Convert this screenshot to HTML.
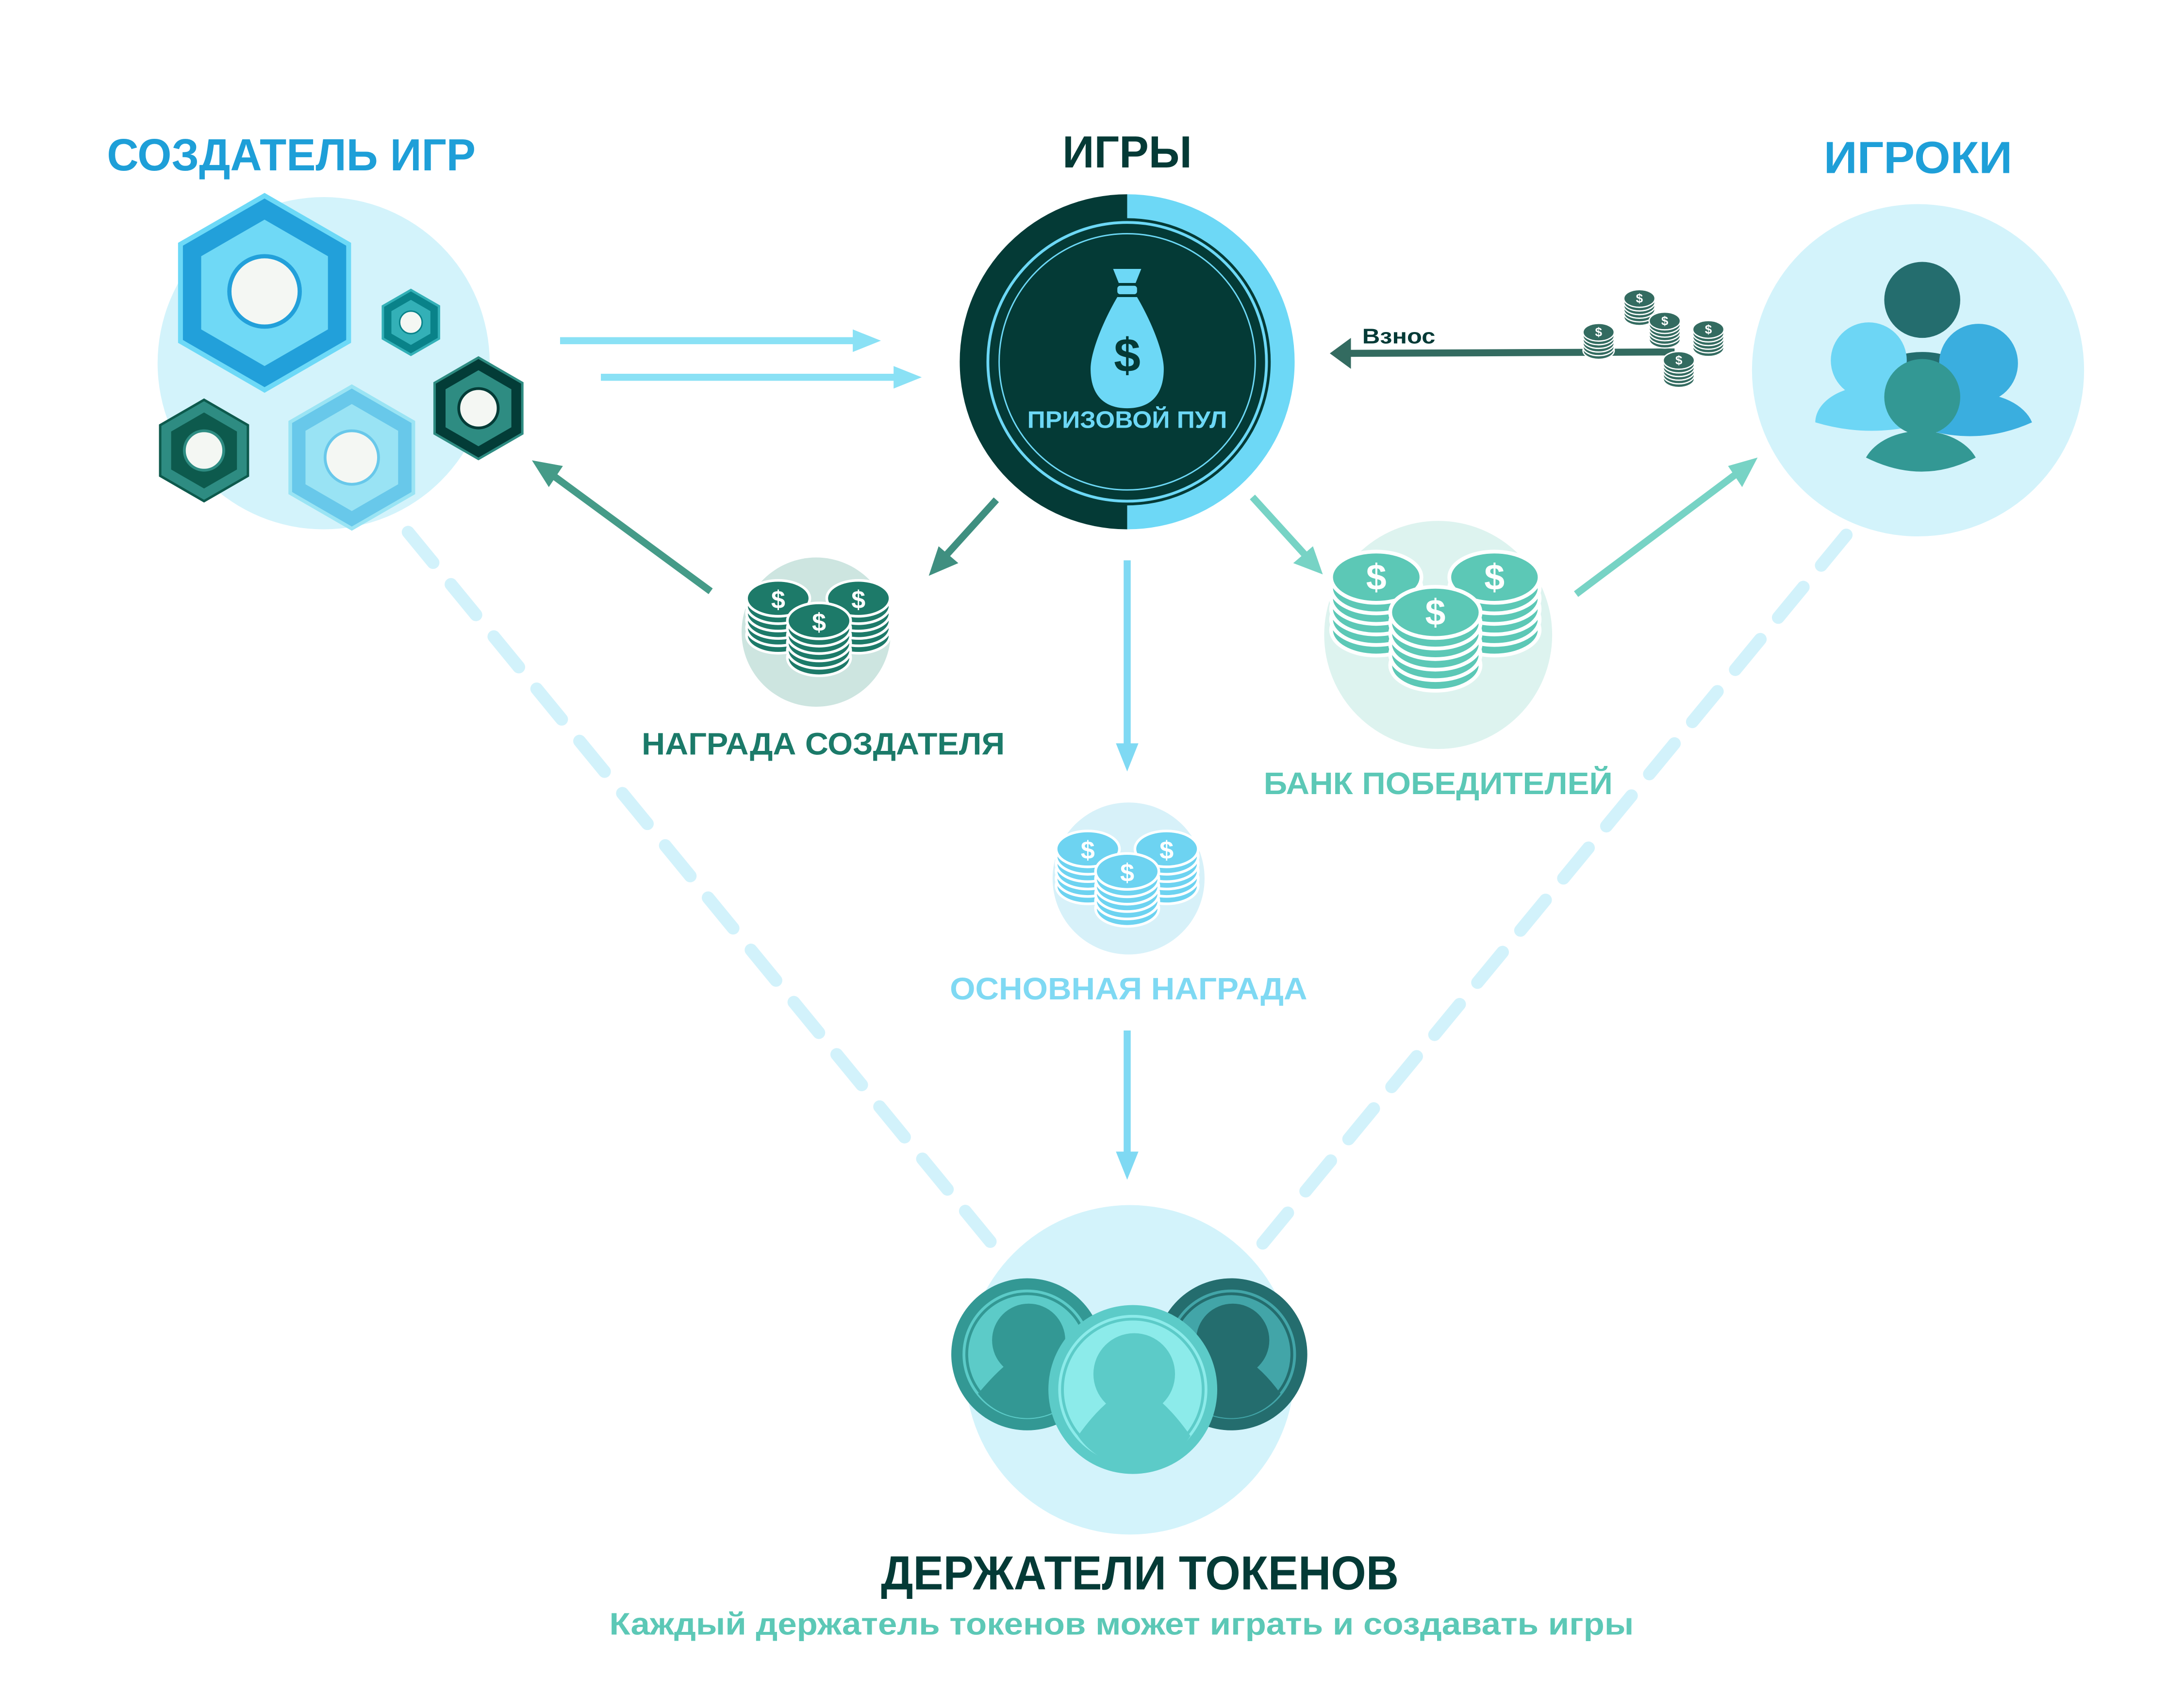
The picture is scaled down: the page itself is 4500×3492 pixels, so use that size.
<!DOCTYPE html>
<html><head><meta charset="utf-8"><style>html,body{margin:0;padding:0;background:#fff}svg{display:block}</style></head>
<body>
<svg width="4500" height="3492" viewBox="0 0 1552 1204" preserveAspectRatio="none" xmlns="http://www.w3.org/2000/svg" font-family="'Liberation Sans', sans-serif" font-weight="bold">
<defs>
<polygon id="hx" points="0,-1 0.866,-0.5 0.866,0.5 0,1 -0.866,0.5 -0.866,-0.5"/>
<g id="stk">
<ellipse cx="0" cy="35" rx="30" ry="17" fill="currentColor" stroke="#fff" stroke-width="2.5"/>
<ellipse cx="0" cy="28" rx="30" ry="17" fill="currentColor" stroke="#fff" stroke-width="2.5"/>
<ellipse cx="0" cy="21" rx="30" ry="17" fill="currentColor" stroke="#fff" stroke-width="2.5"/>
<ellipse cx="0" cy="14" rx="30" ry="17" fill="currentColor" stroke="#fff" stroke-width="2.5"/>
<ellipse cx="0" cy="7" rx="30" ry="17" fill="currentColor" stroke="#fff" stroke-width="2.5"/>
<ellipse cx="0" cy="0" rx="30" ry="17" fill="currentColor" stroke="#fff" stroke-width="2.5"/>
</g>
</defs>

<!-- dashed lines -->
<line x1="290" y1="378" x2="712" y2="892" stroke="#d2f2fb" stroke-width="9" stroke-dasharray="28 20" stroke-linecap="round"/>
<line x1="1312" y1="380" x2="890" y2="892" stroke="#d2f2fb" stroke-width="9" stroke-dasharray="28 20" stroke-linecap="round"/>

<!-- titles -->
<text x="207" y="121" text-anchor="middle" font-size="32" fill="#1e9fd8" textLength="262" lengthAdjust="spacingAndGlyphs">СОЗДАТЕЛЬ ИГР</text>
<text x="801" y="119" text-anchor="middle" font-size="32" fill="#043a36" textLength="92" lengthAdjust="spacingAndGlyphs">ИГРЫ</text>
<text x="1363" y="123" text-anchor="middle" font-size="32" fill="#1e9fd8" textLength="134" lengthAdjust="spacingAndGlyphs">ИГРОКИ</text>

<!-- creator -->
<circle cx="230" cy="258" r="118" fill="#d3f3fb"/>
<use href="#hx" transform="translate(188,208) scale(71)" fill="#6dd9f7"/>
<use href="#hx" transform="translate(188,208) scale(67)" fill="#22a0da"/>
<use href="#hx" transform="translate(188,208) scale(52)" fill="#6fd9f6"/>
<circle cx="188" cy="207" r="25" fill="#f4f7f3" stroke="#22a0da" stroke-width="3"/>
<use href="#hx" transform="translate(292,229) scale(24)" fill="#33b0b7"/>
<use href="#hx" transform="translate(292,229) scale(22)" fill="#098289"/>
<use href="#hx" transform="translate(292,229) scale(16)" fill="#33b0b7"/>
<circle cx="292" cy="229" r="8" fill="#f4f7f3" stroke="#098289" stroke-width="1"/>
<use href="#hx" transform="translate(340,290) scale(37)" fill="#2e8c82"/>
<use href="#hx" transform="translate(340,290) scale(35)" fill="#033c37"/>
<use href="#hx" transform="translate(340,290) scale(27)" fill="#2e8c82"/>
<circle cx="340" cy="290" r="14" fill="#f4f7f3" stroke="#033c37" stroke-width="2"/>
<use href="#hx" transform="translate(145,320) scale(37)" fill="#0d5a4d"/>
<use href="#hx" transform="translate(145,320) scale(35)" fill="#2e8c82"/>
<use href="#hx" transform="translate(145,320) scale(27)" fill="#0d5a4d"/>
<circle cx="145" cy="320" r="14" fill="#f4f7f3" stroke="#2e8c82" stroke-width="2"/>
<use href="#hx" transform="translate(250,325) scale(52)" fill="#9ae4f4"/>
<use href="#hx" transform="translate(250,325) scale(49)" fill="#68c8ea"/>
<use href="#hx" transform="translate(250,325) scale(38)" fill="#99e3f4"/>
<circle cx="250" cy="325" r="19" fill="#f4f7f3" stroke="#68c8ea" stroke-width="2"/>

<!-- arrows creator -> games -->
<line x1="398" y1="242" x2="610" y2="242" stroke="#8ae1f5" stroke-width="5"/>
<polygon points="626,242 606,234 606,250" fill="#8ae1f5"/>
<line x1="427" y1="268" x2="639" y2="268" stroke="#8ae1f5" stroke-width="5"/>
<polygon points="655,268 635,260 635,276" fill="#8ae1f5"/>

<!-- game pool -->
<path d="M801,138 A119,119 0 0 0 801,376 Z" fill="#043a36"/>
<path d="M801,138 A119,119 0 0 1 801,376 Z" fill="#6dd8f6"/>
<circle cx="801" cy="257" r="102" fill="#043a36"/>
<circle cx="801" cy="257" r="99" fill="none" stroke="#6dd8f6" stroke-width="2"/>
<circle cx="801" cy="257" r="91" fill="none" stroke="#6dd8f6" stroke-width="1"/>
<path d="M791,191 L811,191 L807,201 L795,201 Z" fill="#6dd8f6"/>
<rect x="794" y="203" width="14" height="6" rx="2" fill="#6dd8f6"/>
<path d="M794,211 L808,211 C818,228 827,250 827,262 C827,280 818,290 801,290 C784,290 775,280 775,262 C775,250 784,228 794,211 Z" fill="#6dd8f6"/>
<text x="801" y="264" text-anchor="middle" font-size="34" fill="#043a36">$</text>
<text x="801" y="304" text-anchor="middle" font-size="17" fill="#6dd8f6" textLength="142" lengthAdjust="spacingAndGlyphs">ПРИЗОВОЙ ПУЛ</text>

<!-- vznos -->
<line x1="958" y1="251" x2="1190" y2="250" stroke="#336b60" stroke-width="5"/>
<polygon points="945,251 960,240 960,262" fill="#336b60"/>
<text x="968" y="244" font-size="15" fill="#043a36" textLength="52" lengthAdjust="spacingAndGlyphs">Взнос</text>
<g style="color:#336b60">
<use href="#stk" transform="translate(1165,212) scale(0.37)"/>
<use href="#stk" transform="translate(1183,228) scale(0.37)"/>
<use href="#stk" transform="translate(1214,234) scale(0.37)"/>
<use href="#stk" transform="translate(1136,236) scale(0.37)"/>
<use href="#stk" transform="translate(1193,256) scale(0.37)"/>
</g>
<g font-size="9" fill="#fff" text-anchor="middle">
<text x="1165" y="215">$</text><text x="1183" y="231">$</text><text x="1214" y="237">$</text><text x="1136" y="239">$</text><text x="1193" y="259">$</text>
</g>

<!-- players -->
<circle cx="1363" cy="263" r="118" fill="#d3f3fb"/>
<path d="M1318,290 A48,40 0 0 1 1414,290 Z" fill="#246d6e"/>
<circle cx="1366" cy="213" r="27" fill="#246d6e"/>
<path d="M1290,300 A40,26 0 0 1 1370,300 Q1330,312 1290,300 Z" fill="#6dd6f5"/>
<circle cx="1328" cy="256" r="27" fill="#6dd6f5"/>
<path d="M1362,303 A42,28 0 0 1 1444,300 Q1404,318 1362,303 Z" fill="#3aaedf"/>
<circle cx="1406" cy="258" r="28" fill="#3aaedf"/>
<path d="M1326,325 A42,30 0 0 1 1404,325 Q1366,345 1326,325 Z" fill="#339894"/>
<circle cx="1366" cy="282" r="27" fill="#339894"/>

<!-- arrows from pool -->
<line x1="708" y1="355" x2="670" y2="397" stroke="#3f8f80" stroke-width="5"/>
<polygon points="660,409 667,388 681,400" fill="#3f8f80"/>
<line x1="505" y1="420" x2="392" y2="337" stroke="#459b88" stroke-width="5"/>
<polygon points="378,327 400,331 390,346" fill="#459b88"/>
<line x1="890" y1="353" x2="930" y2="397" stroke="#77d3c5" stroke-width="5"/>
<polygon points="940,408 919,400 933,388" fill="#77d3c5"/>
<line x1="1120" y1="422" x2="1236" y2="335" stroke="#77d3c5" stroke-width="5"/>
<polygon points="1249,325 1238,346 1228,331" fill="#77d3c5"/>
<line x1="801" y1="398" x2="801" y2="532" stroke="#7fd9f3" stroke-width="5"/>
<polygon points="801,548 793,528 809,528" fill="#7fd9f3"/>
<line x1="801" y1="732" x2="801" y2="822" stroke="#7fd9f3" stroke-width="5"/>
<polygon points="801,838 793,818 809,818" fill="#7fd9f3"/>

<!-- creator reward -->
<circle cx="580" cy="449" r="53" fill="#cde5e0"/>
<g style="color:#1d7a69">
<use href="#stk" transform="translate(553,425) scale(0.75)"/>
<use href="#stk" transform="translate(610,425) scale(0.75)"/>
<use href="#stk" transform="translate(582,441) scale(0.75)"/>
</g>
<g font-size="18" fill="#fff" text-anchor="middle"><text x="553" y="432">$</text><text x="610" y="432">$</text><text x="582" y="448">$</text></g>
<text x="585" y="536" text-anchor="middle" font-size="22" fill="#1b7a69" textLength="258" lengthAdjust="spacingAndGlyphs">НАГРАДА СОЗДАТЕЛЯ</text>

<!-- winners bank -->
<circle cx="1022" cy="451" r="81" fill="#ddf3ef"/>
<g style="color:#5cc8b6">
<use href="#stk" transform="translate(978,410) scale(1.07)"/>
<use href="#stk" transform="translate(1062,410) scale(1.07)"/>
<use href="#stk" transform="translate(1020,435) scale(1.07)"/>
</g>
<g font-size="26" fill="#fff" text-anchor="middle"><text x="978" y="419">$</text><text x="1062" y="419">$</text><text x="1020" y="444">$</text></g>
<text x="1022" y="564" text-anchor="middle" font-size="22" fill="#5cc8b6" textLength="248" lengthAdjust="spacingAndGlyphs">БАНК ПОБЕДИТЕЛЕЙ</text>

<!-- main reward -->
<circle cx="802" cy="624" r="54" fill="#d7f1f9"/>
<g style="color:#6dd3f1">
<use href="#stk" transform="translate(773,603) scale(0.75)"/>
<use href="#stk" transform="translate(829,603) scale(0.75)"/>
<use href="#stk" transform="translate(801,619) scale(0.75)"/>
</g>
<g font-size="18" fill="#fff" text-anchor="middle"><text x="773" y="610">$</text><text x="829" y="610">$</text><text x="801" y="626">$</text></g>
<text x="802" y="710" text-anchor="middle" font-size="22" fill="#7fd9f3" textLength="254" lengthAdjust="spacingAndGlyphs">ОСНОВНАЯ НАГРАДА</text>

<!-- token holders -->
<circle cx="803" cy="973" r="117" fill="#d3f3fb"/>
<g>
<circle cx="730" cy="962" r="54" fill="#339894"/>
<circle cx="730" cy="962" r="46" fill="#5ccbc8"/>
<circle cx="730" cy="962" r="43" fill="none" stroke="#339894" stroke-width="2"/>
<path d="M695,990 Q710,972 722,964 L738,964 Q752,972 765,990 A44,44 0 0 1 695,990 Z" fill="#339894"/>
<circle cx="731" cy="952" r="26" fill="#339894"/>
</g>
<g>
<circle cx="875" cy="962" r="54" fill="#246d6e"/>
<circle cx="875" cy="962" r="46" fill="#42a5a8"/>
<circle cx="875" cy="962" r="43" fill="none" stroke="#246d6e" stroke-width="2"/>
<path d="M840,990 Q855,972 867,964 L883,964 Q897,972 910,990 A44,44 0 0 1 840,990 Z" fill="#246d6e"/>
<circle cx="876" cy="952" r="26" fill="#246d6e"/>
</g>
<g>
<circle cx="805" cy="987" r="60" fill="#5ccbc8"/>
<circle cx="805" cy="987" r="53" fill="#8cebea"/>
<circle cx="805" cy="987" r="50" fill="none" stroke="#5ccbc8" stroke-width="2"/>
<path d="M766,1020 Q780,1000 795,990 L818,990 Q832,1000 846,1020 A48,48 0 0 1 766,1020 Z" fill="#5ccbc8"/>
<circle cx="806" cy="976" r="29" fill="#5ccbc8"/>
</g>
<text x="810" y="1129" text-anchor="middle" font-size="34" fill="#043a36" textLength="368" lengthAdjust="spacingAndGlyphs">ДЕРЖАТЕЛИ ТОКЕНОВ</text>
<text x="797" y="1161" text-anchor="middle" font-size="22" fill="#5cc8b6" textLength="728" lengthAdjust="spacingAndGlyphs">Каждый держатель токенов может играть и создавать игры</text>
</svg>
</body></html>
